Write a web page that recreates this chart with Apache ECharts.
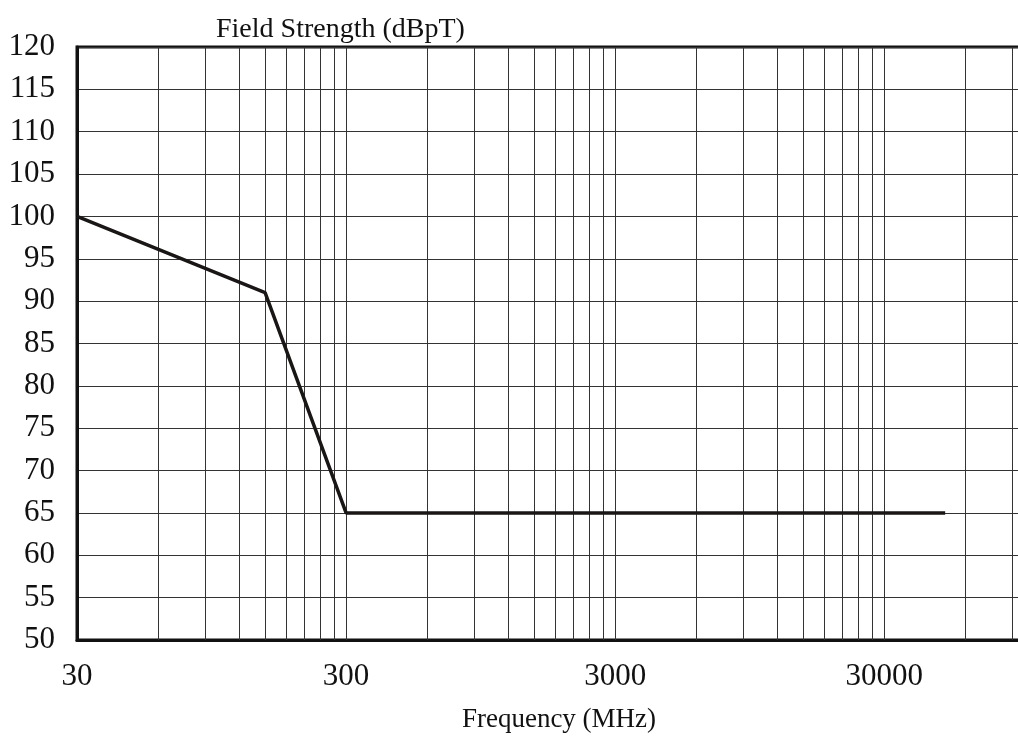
<!DOCTYPE html>
<html>
<head>
<meta charset="utf-8">
<script src="https://cdn.jsdelivr.net/npm/echarts@6/dist/echarts.min.js"></script>
<style>
html,body{margin:0;padding:0;background:#fff;}
#chart{width:1018px;height:738px;}
</style>
</head>
<body>
<div id="chart"></div>
<script>
// Data
var frequencies = [30, 150, 300, 50500];          // MHz
var fieldStrength = [100, 91, 65, 65];            // dBpT
var xTickLabels = [30, 300, 3000, 30000];
var yTicks = [50, 55, 60, 65, 70, 75, 80, 85, 90, 95, 100, 105, 110, 115, 120];
var xGridLines = [
  60, 90, 120, 150, 180, 210, 240, 270, 300,
  600, 900, 1200, 1500, 1800, 2100, 2400, 2700, 3000,
  6000, 9000, 12000, 15000, 18000, 21000, 24000, 27000, 30000,
  60000, 90000
];
var xTitle = 'Frequency (MHz)';
var yTitle = 'Field Strength (dBpT)';

var serif = '"Liberation Serif", "Times New Roman", serif';

var chart = echarts.init(document.getElementById('chart'), null, {renderer: 'canvas'});
var option = {
  animation: false,
  backgroundColor: '#fff',
  title: {
    text: yTitle,
    left: 211,
    top: 11,
    textStyle: {fontFamily: serif, fontSize: 28, fontWeight: 'normal', color: '#111'}
  },
  grid: {
    left: 77, top: 47, right: -7, bottom: 98,
    show: true, borderColor: '#111', borderWidth: 3,
    containLabel: false, outerBoundsMode: 'none'
  },
  xAxis: {
    type: 'log',
    logBase: 10,
    min: 30,
    max: 100000,
    name: xTitle,
    nameLocation: 'middle',
    nameGap: 66,
    nameTextStyle: {fontFamily: serif, fontSize: 27, color: '#111', padding: [0, 0, 0, 16]},
    axisLine: {show: true, lineStyle: {color: '#111', width: 3}},
    axisTick: {show: false},
    splitLine: {show: false},
    axisLabel: {
      fontFamily: serif, fontSize: 31, color: '#111', margin: 21,
      customValues: xTickLabels,
      formatter: function (v) { return String(Math.round(v)); }
    }
  },
  yAxis: {
    type: 'value',
    min: yTicks[0],
    max: yTicks[yTicks.length - 1],
    interval: 5,
    axisLine: {show: true, lineStyle: {color: '#111', width: 3}},
    axisTick: {show: false},
    splitLine: {show: true, lineStyle: {color: '#333', width: 1}},
    axisLabel: {fontFamily: serif, fontSize: 31, color: '#111', margin: 22}
  },
  series: [
    {
      type: 'line',
      data: [],
      silent: true,
      markLine: {
        silent: true,
        symbol: ['none', 'none'],
        label: {show: false},
        lineStyle: {color: '#333', width: 1, type: 'solid'},
        emphasis: {disabled: true},
        data: xGridLines.map(function (f) { return {xAxis: f}; })
      }
    },
    {
      type: 'line',
      data: frequencies.map(function (f, i) { return [f, fieldStrength[i]]; }),
      symbol: 'none',
      lineStyle: {color: '#1a1616', width: 3.5},
      z: 5
    }
  ]
};
chart.setOption(option);
</script>
</body>
</html>
